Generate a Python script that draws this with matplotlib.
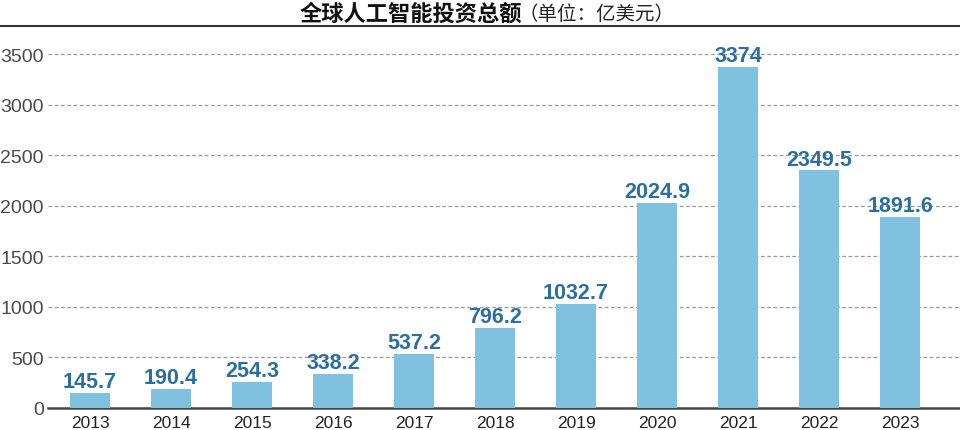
import matplotlib.pyplot as plt
from matplotlib.lines import Line2D

plt.rcParams['font.family'] = ['Noto Sans CJK SC', 'DejaVu Sans']

years = ['2013', '2014', '2015', '2016', '2017', '2018', '2019', '2020', '2021', '2022', '2023']
values = [145.7, 190.4, 254.3, 338.2, 537.2, 796.2, 1032.7, 2024.9, 3374, 2349.5, 1891.6]
labels = ['145.7', '190.4', '254.3', '338.2', '537.2', '796.2', '1032.7', '2024.9', '3374', '2349.5', '1891.6']
yticks = [0, 500, 1000, 1500, 2000, 2500, 3000, 3500]

fig = plt.figure(figsize=(9.6, 4.31), dpi=100)
ax = fig.add_axes([48/960, 22/431, 1 - 48/960, 369/431])

x = list(range(len(years)))
ax.bar(x, values, width=0.5, color='#7fc1de', zorder=3)
for xi, v, lab in zip(x, values, labels):
    ax.text(xi, v + 8, lab, ha='center', va='bottom', fontsize=15.5,
            color='#2b6f9f', fontweight='bold', family='Liberation Sans', zorder=4)

ax.set_xlim(-0.52, 10.74)
ax.set_ylim(0, 3650)
ax.set_yticks(yticks)
ax.set_yticklabels([str(t) for t in yticks])
ax.set_xticks(x)
ax.set_xticklabels(years)
ax.tick_params(axis='y', length=0, pad=3, labelsize=14, labelcolor='#4a4a4a')
ax.tick_params(axis='x', length=0, pad=5, labelsize=12.5, labelcolor='#222222')
for lbl in ax.get_yticklabels() + ax.get_xticklabels():
    lbl.set_family('Liberation Sans')
ax.grid(axis='y', linestyle=(0, (3, 2)), color='#999999', linewidth=0.9, zorder=0)
ax.yaxis.get_gridlines()[0].set_visible(False)
for s in ['top', 'right', 'left']:
    ax.spines[s].set_visible(False)
ax.spines['bottom'].set_color('#444444')
ax.spines['bottom'].set_linewidth(1.8)

# title and rule under it
fig.text(522/960, 1 - 14/431, '全球人工智能投资总额', ha='right', va='center',
         fontsize=16, fontweight='bold', color='#111111')
fig.text(518/960, 1 - 14/431, '（单位：亿美元）', ha='left', va='center',
         fontsize=14, color='#222222')
fig.add_artist(Line2D([0, 1], [1 - 27/431, 1 - 27/431], color='#333333', linewidth=1.5))

fig.savefig('out.png', dpi=100)
